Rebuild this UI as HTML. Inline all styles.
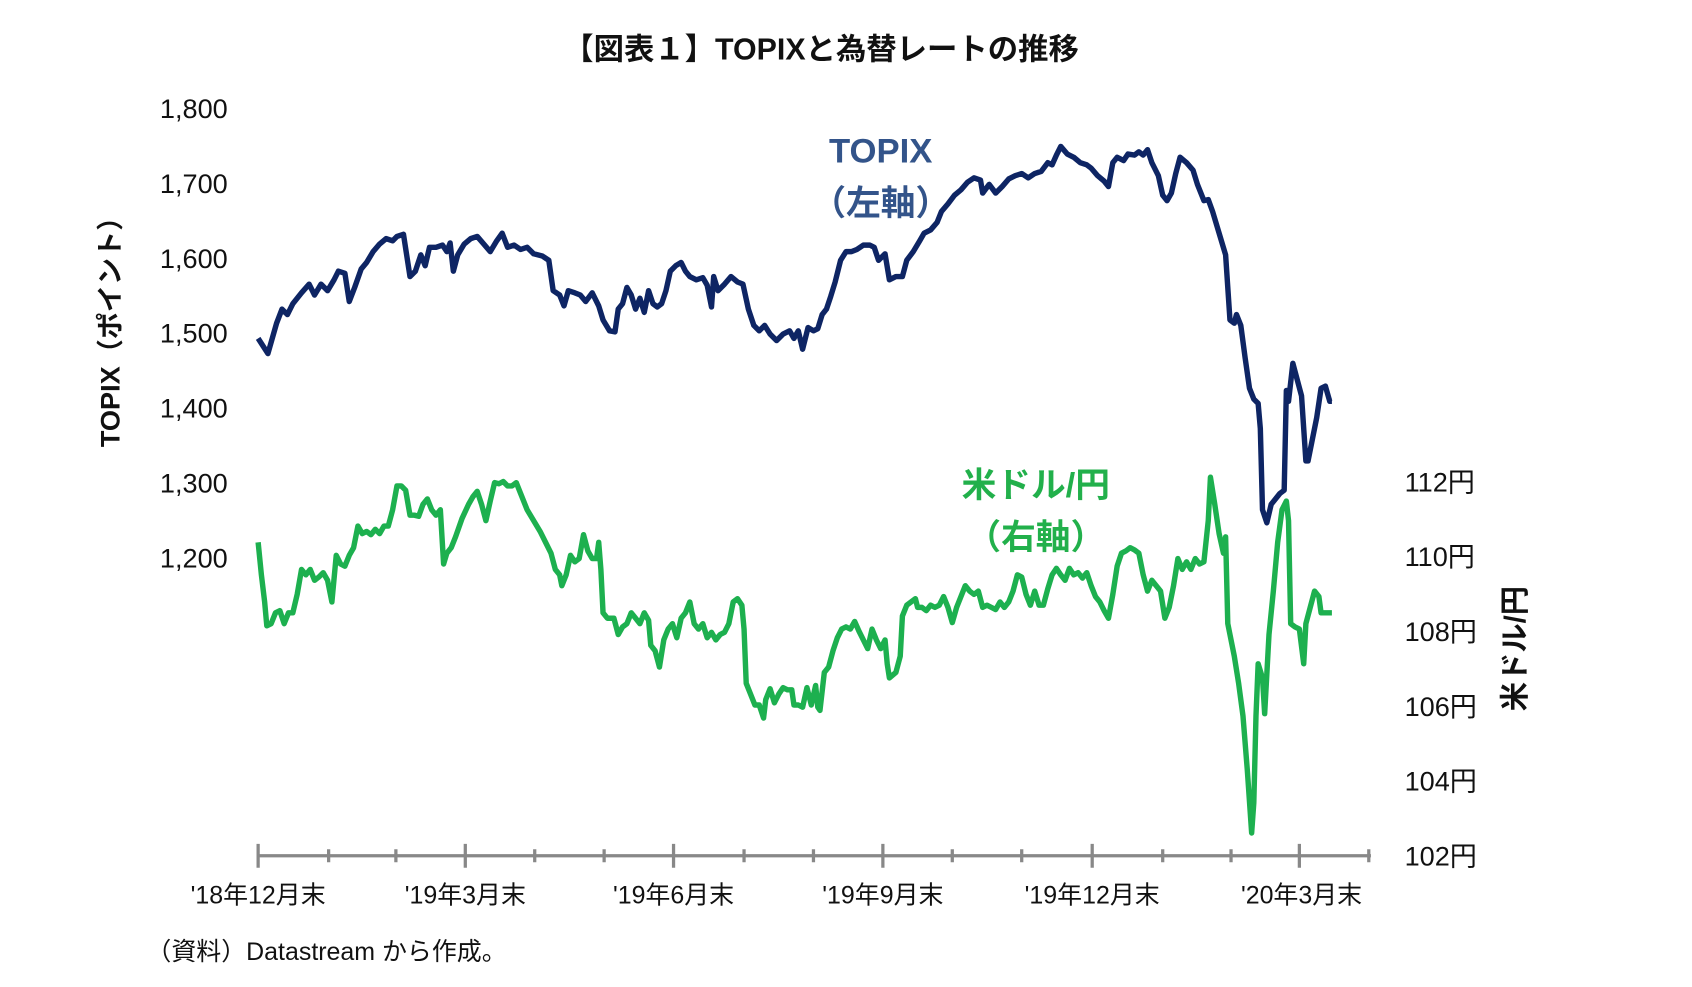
<!DOCTYPE html>
<html><head><meta charset="utf-8"><style>
html,body{margin:0;padding:0;background:#fff;}
svg{display:block;}
text{font-family:"Liberation Sans","Noto Sans CJK JP",sans-serif;}
</style></head><body>
<svg width="1692" height="987" viewBox="0 0 1560 910" xmlns="http://www.w3.org/2000/svg">
<rect width="1560" height="910" fill="#fff"/>
<text x="757" y="55" font-size="28" font-weight="bold" text-anchor="middle" fill="#111">【図表１】TOPIXと為替レートの推移</text>
<g font-size="25" fill="#111" text-anchor="end">
<text x="210" y="109">1,800</text><text x="210" y="178">1,700</text><text x="210" y="247">1,600</text>
<text x="210" y="316">1,500</text><text x="210" y="385">1,400</text><text x="210" y="454">1,300</text><text x="210" y="523">1,200</text>
</g>
<g font-size="25" fill="#111" text-anchor="start">
<text x="1295" y="453">112円</text><text x="1295" y="522">110円</text><text x="1295" y="591">108円</text>
<text x="1295" y="660">106円</text><text x="1295" y="729">104円</text><text x="1295" y="798">102円</text>
</g>
<text transform="translate(110,300) rotate(-90)" font-size="25" font-weight="bold" text-anchor="middle" fill="#111">TOPIX（ポイント）</text>
<text transform="translate(1406,598) rotate(-90)" font-size="27" font-weight="bold" text-anchor="middle" fill="#111">米ドル/円</text>
<text x="812" y="150" font-size="32" font-weight="bold" text-anchor="middle" fill="#33548a">TOPIX</text>
<text x="812" y="198" font-size="32" font-weight="bold" text-anchor="middle" fill="#33548a">（左軸）</text>
<text x="955" y="458" font-size="32" font-weight="bold" text-anchor="middle" fill="#22b04b">米ドル/円</text>
<text x="955" y="506" font-size="32" font-weight="bold" text-anchor="middle" fill="#22b04b">（右軸）</text>
<g stroke="#888" stroke-width="3" fill="none">
<line x1="238" y1="789" x2="1264" y2="789"/>
<path d="M238 778V800M429 778V800M621 778V800M814 778V800M1007 778V800M1198 778V800"/>
<path d="M303 783V795M365 783V795M493 783V795M557 783V795M686 783V795M750 783V795M878 783V795M942 783V795M1072 783V795M1135 783V795M1262 783V795"/>
</g>
<g font-size="23" fill="#111" text-anchor="middle">
<text x="238" y="833">'18年12月末</text><text x="429" y="833">'19年3月末</text><text x="621" y="833">'19年6月末</text>
<text x="814" y="833">'19年9月末</text><text x="1007" y="833">'19年12月末</text><text x="1200" y="833">'20年3月末</text>
</g>
<text x="135" y="885" font-size="23" fill="#111">（資料）Datastream から作成。</text>
<polyline fill="none" stroke="#0e2564" stroke-width="5" stroke-linejoin="round" points="238,312 247,326 255,298 260,285 265,290 270,280 278,270 285,262 290,272 296,262 302,268 308,258 312,250 318,252 322,278 327,265 333,248 338,242 344,232 350,225 356,220 362,222 366,218 372,216 378,255 383,250 388,235 392,245 396,228 402,228 408,226 412,232 415,224 418,250 422,235 428,225 434,220 440,218 446,225 452,232 458,222 463,215 468,228 474,226 480,230 486,228 492,234 500,236 506,240 510,268 516,272 520,282 524,268 530,270 535,272 540,278 546,270 552,282 556,295 562,305 567,306 570,285 574,280 578,265 582,272 586,285 590,275 594,288 598,268 602,280 606,283 610,280 614,268 618,250 623,245 628,242 632,250 636,255 642,258 648,256 652,263 656,283 658,255 662,268 668,262 674,255 680,260 685,262 690,285 695,300 700,305 705,300 710,308 716,314 722,308 728,305 732,312 736,305 740,322 745,302 750,305 754,303 758,290 762,285 766,273 770,260 775,240 780,232 785,232 790,230 796,226 802,226 806,228 810,240 816,234 820,258 826,255 832,255 836,240 842,232 848,222 852,215 858,212 864,205 868,195 874,188 880,180 886,175 892,168 898,164 904,166 906,178 912,170 918,178 924,172 930,165 936,162 942,160 948,164 954,160 960,158 966,150 970,152 974,143 978,135 984,142 990,145 996,150 1002,152 1006,155 1012,162 1018,167 1022,172 1026,150 1030,145 1036,148 1040,142 1046,143 1050,140 1054,143 1058,138 1062,150 1068,162 1072,180 1076,185 1080,178 1084,160 1088,145 1094,150 1100,157 1104,170 1110,185 1114,184 1118,195 1124,215 1130,235 1134,295 1138,298 1140,290 1144,300 1148,330 1152,358 1156,368 1160,372 1162,395 1164,470 1168,482 1172,465 1176,460 1180,455 1184,452 1186,360 1188,370 1192,335 1196,350 1200,365 1204,425 1206,425 1210,405 1214,385 1218,358 1222,356 1226,370 1228,370"/>
<polyline fill="none" stroke="#1db04f" stroke-width="5" stroke-linejoin="round" points="238,500 241,530 244,555 246,577 250,575 254,565 258,563 262,575 266,565 270,565 274,548 278,525 282,530 286,525 290,535 294,532 298,528 302,535 306,555 310,512 314,520 318,522 322,512 326,505 330,485 334,492 338,490 342,493 346,488 350,492 354,485 358,485 362,470 366,448 370,448 374,452 378,475 382,475 386,476 390,465 394,460 398,470 402,475 406,470 409,520 412,510 416,505 420,495 426,478 432,465 436,458 440,453 444,465 448,480 452,462 456,445 460,446 464,444 468,448 472,448 476,445 480,455 486,470 492,480 498,490 504,502 508,510 512,525 516,530 518,540 522,530 526,512 530,518 534,515 538,493 542,508 546,515 550,515 552,500 554,525 556,565 560,570 566,570 570,585 574,578 578,575 582,565 586,570 590,575 594,565 598,572 600,595 604,600 608,615 612,590 616,580 620,575 624,588 628,570 632,565 636,555 640,575 644,580 648,575 652,588 656,583 660,590 664,585 668,583 672,575 676,555 680,552 684,558 686,580 688,630 692,640 696,650 700,650 704,662 706,645 710,635 714,648 718,640 722,634 726,636 730,636 732,650 736,650 740,652 744,634 748,650 752,632 754,652 756,655 760,620 764,615 768,600 772,588 776,580 780,578 784,580 788,573 792,582 796,590 800,598 804,580 808,590 812,598 816,590 818,612 820,625 826,620 830,605 832,568 836,558 840,555 844,552 846,560 850,560 854,563 858,558 862,560 866,558 870,550 874,560 878,574 882,560 886,550 890,540 894,545 898,548 902,545 906,560 910,558 914,560 918,562 922,555 926,560 930,555 934,545 938,530 942,532 946,548 950,558 954,545 958,558 962,558 966,543 970,530 974,524 978,530 982,535 986,524 990,530 994,528 998,533 1002,528 1006,540 1010,550 1014,555 1018,563 1022,570 1026,548 1030,522 1034,510 1038,508 1042,505 1046,507 1050,510 1054,530 1058,545 1062,535 1066,540 1070,545 1074,570 1078,560 1082,540 1086,515 1090,525 1094,518 1098,525 1102,515 1106,520 1110,518 1114,480 1116,440 1120,465 1124,492 1128,510 1130,495 1132,575 1134,585 1138,605 1142,630 1146,660 1150,710 1154,768 1156,740 1158,660 1160,612 1164,625 1166,658 1170,585 1174,545 1178,500 1182,470 1186,462 1188,480 1190,575 1194,578 1198,580 1202,612 1204,575 1208,560 1212,545 1216,550 1218,565 1222,565 1228,565"/>
</svg>
</body></html>
